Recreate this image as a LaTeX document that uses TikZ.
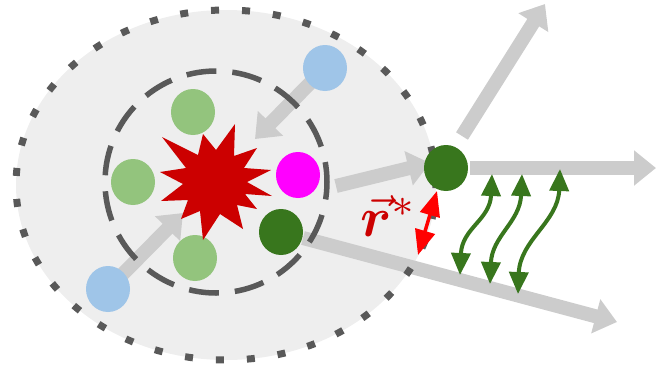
\documentclass[tikz,border=0pt]{standalone}
\usepackage{bm}
\usetikzlibrary{arrows.meta,shapes.geometric}
\definecolor{bgfill}{HTML}{EEEEEE}
\definecolor{linegray}{HTML}{595959}
\definecolor{arrgray}{HTML}{CCCCCC}
\definecolor{lgreen}{HTML}{93C47D}
\definecolor{lblue}{HTML}{9FC5E8}
\definecolor{dgreen}{HTML}{38761D}
\definecolor{starred}{HTML}{CC0000}
\definecolor{magent}{HTML}{FF00FF}
\definecolor{brightred}{HTML}{FF0000}
\begin{document}
\begin{tikzpicture}[x=1pt,y=-1pt,
  ball/.style={ellipse,minimum width=44pt,minimum height=46pt,inner sep=0pt,draw=none},
  garrow/.style={draw=arrgray,line width=14pt,-{Triangle[length=22pt,width=34pt]}},
  warrow/.style={draw=dgreen,line width=4pt,{Triangle[length=22pt,width=19pt]}-{Triangle[length=22pt,width=19pt]}},
  rarrow/.style={draw=brightred,line width=3.5pt,{Triangle[length=25pt,width=20pt]}-{Triangle[length=25pt,width=20pt]}}]
\useasboundingbox (0,0) rectangle (657,365);
% outer region fill
\fill[bgfill] (226,185) ellipse [x radius=210pt, y radius=175pt];
% coordinates
\coordinate (c) at (215,182);
\coordinate (t1) at (255,139);
\coordinate (t2) at (183,213);
\coordinate (m0) at (336,186);
\coordinate (t3) at (430,163);
\coordinate (t4) at (617,322);
\coordinate (u0) at (462,136);
\coordinate (t5) at (545,4);
\coordinate (h0) at (470,168);
\coordinate (t6) at (656,168);
% balls (named, drawn later)
\path (325,68) node[ball] (b1) {};
\path (108,289) node[ball] (b2) {};
\path (298,175) node[ball] (mg) {};
\path (281,232) node[ball] (d1) {};
\path (446,168) node[ball] (d2) {};
\path (193,112) node[ball] (g1) {};
\path (133,182) node[ball] (g2) {};
\path (195,258) node[ball] (g3) {};
\coordinate (d1s) at (303,238);
% gray arrows
\draw[garrow] (b1.center) -- (t1);
\draw[garrow] (b2.center) -- (t2);
\draw[garrow] (m0) -- (t3);
\draw[garrow] (d1s) -- (t4);
\draw[garrow] (u0) -- (t5);
\draw[garrow] (h0) -- (t6);
% outer dotted border
\draw[linegray,line width=7pt,dash pattern=on 8pt off 23pt] (226,185) ellipse [x radius=210pt, y radius=175pt];
% inner dashed circle
\draw[linegray,line width=5.5pt,dash pattern=on 30pt off 16pt,dash phase=10pt] (216,182) circle [radius=111pt];
% balls
\fill[lblue] (b1.center) ellipse [x radius=22pt,y radius=23pt];
\fill[lblue] (b2.center) ellipse [x radius=22pt,y radius=23pt];
\fill[magent] (mg.center) ellipse [x radius=22pt,y radius=23pt];
\fill[dgreen] (d1.center) ellipse [x radius=22pt,y radius=23pt];
\fill[dgreen] (d2.center) ellipse [x radius=22pt,y radius=23pt];
\fill[lgreen] (g1.center) ellipse [x radius=22pt,y radius=23pt];
\fill[lgreen] (g2.center) ellipse [x radius=22pt,y radius=23pt];
\fill[lgreen] (g3.center) ellipse [x radius=22pt,y radius=23pt];
% starburst
\fill[starred] (162,137) -- (198,155) -- (203,134) -- (216,150) -- (235,124) -- (234,156)
  -- (257,148) -- (244,168) -- (271,170) -- (247,182) -- (272,196) -- (245,194)
  -- (257,209) -- (237,205) -- (243,229) -- (220,214) -- (203,240) -- (200,211)
  -- (181,219) -- (188,200) -- (161,201) -- (183,184) -- (160,172) -- (186,168) -- cycle;
% red double arrow
\coordinate (ra) at (437,191);
\coordinate (rb) at (418,255);
\draw[rarrow] (ra) -- (rb);
% label
\node[text=starred,scale=5.6,inner sep=0pt] (lbl) at (389,216) {$\vec{\bm{r}}^{*}$};
% green wavy arrows
\coordinate (w1a) at (492,174); \coordinate (w1b) at (460,275);
\coordinate (w2a) at (522,174); \coordinate (w2b) at (490,284);
\coordinate (w3a) at (560,169); \coordinate (w3b) at (518,294);
\draw[warrow] (w1a) .. controls (490,220) and (462,228) .. (w1b);
\draw[warrow] (w2a) .. controls (520,222) and (492,236) .. (w2b);
\draw[warrow] (w3a) .. controls (558,222) and (520,240) .. (w3b);
\end{tikzpicture}
\end{document}
